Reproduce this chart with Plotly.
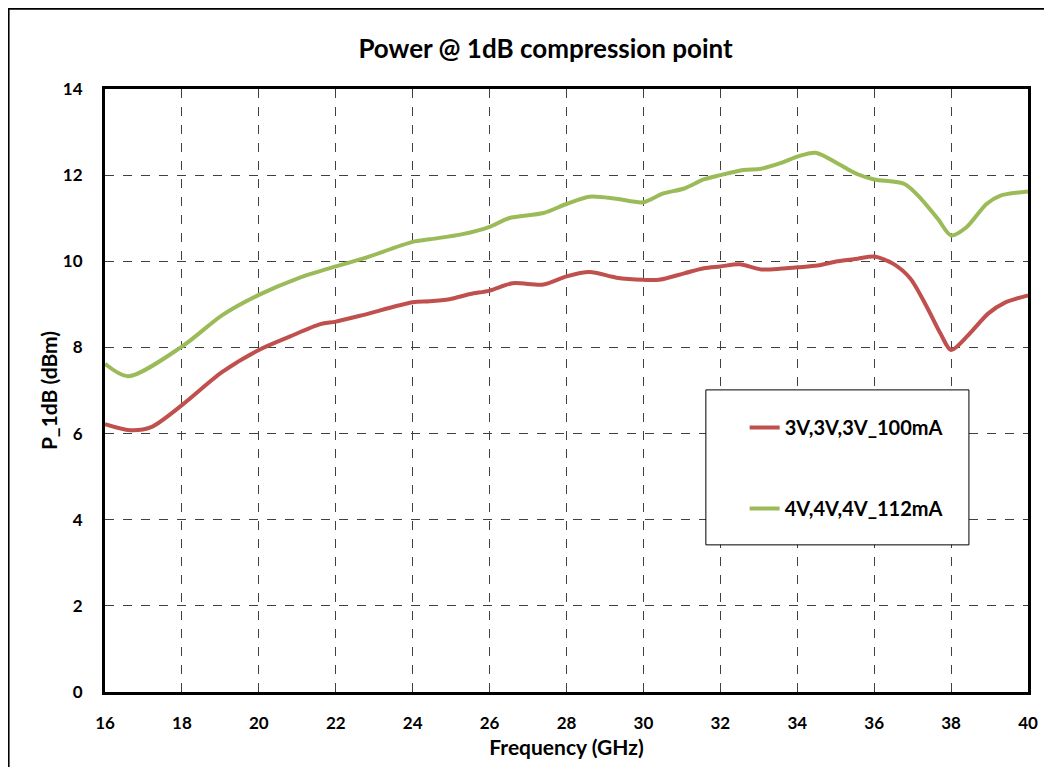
import plotly.graph_objects as go

freq_red = [16.0, 16.65, 17.2, 18.0, 19.05, 20.0, 20.8, 21.6, 22.0, 22.7, 24.0, 24.44, 24.96, 25.5, 26.0,
            26.6, 27.4, 28.0, 28.6, 29.3, 30.0, 30.4, 31.06, 31.57, 32.0, 32.5, 33.06, 33.6, 34.0,
            34.53, 35.05, 35.57, 36.0, 36.5, 36.94, 37.37, 37.72, 38.0, 38.45, 38.97, 39.4, 40.0]
p1db_red = [6.22, 6.08, 6.15, 6.66, 7.43, 7.94, 8.25, 8.54, 8.6, 8.75, 9.05, 9.07, 9.12, 9.24, 9.32,
            9.49, 9.46, 9.65, 9.75, 9.62, 9.57, 9.57, 9.72, 9.84, 9.88, 9.93, 9.81, 9.83, 9.86,
            9.9, 10.0, 10.06, 10.11, 9.94, 9.6, 8.94, 8.33, 7.94, 8.29, 8.79, 9.04, 9.21]

freq_green = [16.0, 16.6, 18.0, 19.05, 20.0, 21.0, 22.0, 22.7, 24.0, 24.44, 25.3, 26.0, 26.5, 27.4,
              28.0, 28.6, 29.3, 30.0, 30.5, 31.06, 31.57, 32.0, 32.6, 33.06, 33.6, 34.0, 34.48,
              35.05, 35.57, 36.0, 36.8, 37.23, 37.66, 38.0, 38.4, 38.92, 39.27, 40.0]
p1db_green = [7.62, 7.33, 8.02, 8.75, 9.22, 9.6, 9.88, 10.06, 10.45, 10.51, 10.63, 10.8, 11.0, 11.12,
              11.33, 11.5, 11.45, 11.37, 11.57, 11.69, 11.9, 12.0, 12.12, 12.15, 12.29, 12.43, 12.52,
              12.27, 12.02, 11.9, 11.79, 11.44, 10.98, 10.6, 10.79, 11.33, 11.52, 11.62]

series_names = ["3V,3V,3V_100mA", "4V,4V,4V_112mA"]
x_ticks = list(range(16, 41, 2))
y_ticks = list(range(0, 15, 2))

FONT = "Lato"
fig = go.Figure()
fig.add_trace(go.Scatter(x=freq_red, y=p1db_red, mode="lines", name=series_names[0],
                         line=dict(color="#C0504D", width=4, shape="spline", smoothing=0.8),
                         legendgroup="a"))
fig.add_trace(go.Scatter(x=freq_green, y=p1db_green, mode="lines", name=series_names[1],
                         line=dict(color="#9BBB59", width=4, shape="spline", smoothing=0.8),
                         legendgroup="b"))

axis_common = dict(showline=True, linecolor="black", linewidth=3, mirror=True,
                   showgrid=True, gridcolor="#404040", griddash="dash", gridwidth=1,
                   zeroline=False, ticks="",
                   tickfont=dict(family=FONT, size=17, color="black", weight="bold"))

fig.update_xaxes(range=[16, 40], tickvals=x_ticks, ticklabelstandoff=14,
                 title=dict(text="Frequency (GHz)", font=dict(family=FONT, size=21, color="black", weight="bold"),
                            standoff=8),
                 **axis_common)
fig.update_yaxes(range=[0, 14], tickvals=y_ticks, ticklabelstandoff=16,
                 title=dict(text="P_1dB (dBm)", font=dict(family=FONT, size=21, color="black", weight="bold"),
                            standoff=0),
                 **axis_common)

fig.update_layout(
    width=1052, height=767,
    margin=dict(l=97, r=32, t=81, b=83),
    paper_bgcolor="white", plot_bgcolor="white",
    title=dict(text="Power @ 1dB compression point", x=0.511, xanchor="center", y=0.947, yanchor="middle",
               font=dict(family=FONT, size=26, color="black", weight="bold")),
    legend=dict(x=0.693, y=0.471, xanchor="left", yanchor="top", bgcolor="rgba(0,0,0,0)",
                borderwidth=0, tracegroupgap=52,
                font=dict(family=FONT, size=20, color="black", weight="bold")),
    shapes=[
        dict(type="rect", xref="paper", yref="paper", x0=0.651, x1=0.936, y0=0.244, y1=0.501,
             line=dict(color="black", width=1), fillcolor="white", layer="above"),
        dict(type="rect", xref="paper", yref="paper", x0=-0.105, x1=1.07, y0=-0.2, y1=1.134,
             line=dict(color="black", width=3), fillcolor="rgba(0,0,0,0)"),
    ],
)

fig.write_html("out.html")
